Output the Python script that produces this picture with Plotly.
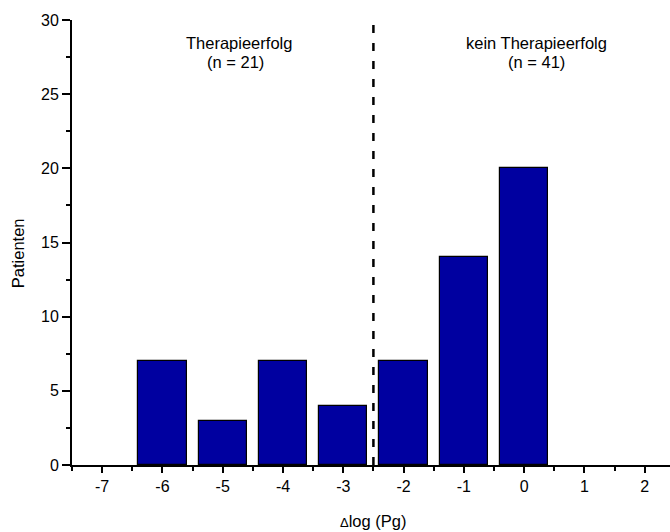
import plotly.graph_objects as go

delta_log = [-6, -5, -4, -3, -2, -1, 0]
patienten = [7, 3, 7, 4, 7, 14, 20]
x_ticks = [-7, -6, -5, -4, -3, -2, -1, 0, 1, 2]
y_ticks = [0, 5, 10, 15, 20, 25, 30]
cut_x = -2.5
group_lines = ["Therapieerfolg", "(n = 21)", "kein Therapieerfolg", "(n = 41)"]
group_line_x = [-4.73, -4.78, 0.206, 0.206]
group_line_y = [28.45, 27.17, 28.45, 27.17]

font = "Liberation Sans, Arial, sans-serif"

fig = go.Figure()
fig.add_trace(go.Bar(
    x=delta_log, y=patienten, width=0.8,
    marker=dict(color="#0000A0", line=dict(color="black", width=1.2)),
    showlegend=False,
))
fig.add_trace(go.Scatter(
    x=[cut_x, cut_x], y=[0, 30], mode="lines",
    line=dict(color="black", width=2.5, dash="8px,10px"),
    showlegend=False,
))
for txt, gx, gy in zip(group_lines, group_line_x, group_line_y):
    fig.add_annotation(x=gx, y=gy, text=txt, showarrow=False,
                       font=dict(size=16.5, color="black", family=font),
                       xanchor="center", yanchor="middle")

# axis titles
fig.add_annotation(xref="paper", yref="paper", x=0.503, y=-0.125,
                   text="<span style='font-size:13px'>Δ</span>log (Pg)", showarrow=False,
                   font=dict(size=16.5, color="black", family=font),
                   xanchor="center", yanchor="middle")
fig.add_annotation(xref="paper", yref="paper", x=-0.0903, y=0.476,
                   text="Patienten", showarrow=False, textangle=-90,
                   font=dict(size=16.5, color="black", family=font),
                   xanchor="center", yanchor="middle")

fig.update_layout(
    width=670, height=532,
    margin=dict(l=72, r=0, t=20, b=67),
    plot_bgcolor="white", paper_bgcolor="white",
    font=dict(family=font, size=16, color="black"),
    bargap=0,
)
fig.update_xaxes(
    range=[-7.5, 2.42], tickvals=x_ticks, ticktext=[str(v) for v in x_ticks],
    showline=True, linecolor="black", linewidth=2, showgrid=False, zeroline=False,
    ticks="outside", ticklen=6, tickwidth=1.5, tickcolor="black",
    tickfont=dict(size=16),
    minor=dict(ticks="outside", ticklen=4, tickwidth=1.5, tickcolor="black",
               tickvals=[v + 0.5 for v in range(-8, 3)]),
)
fig.update_yaxes(
    range=[0, 30], tickvals=y_ticks,
    showline=True, linecolor="black", linewidth=2, showgrid=False, zeroline=False,
    ticks="outside", ticklen=8, tickwidth=1.5, tickcolor="black",
    tickfont=dict(size=16),
    minor=dict(ticks="outside", ticklen=4, tickwidth=1.5, tickcolor="black",
               tickvals=[2.5, 7.5, 12.5, 17.5, 22.5, 27.5]),
)
fig.write_html("out.html")
